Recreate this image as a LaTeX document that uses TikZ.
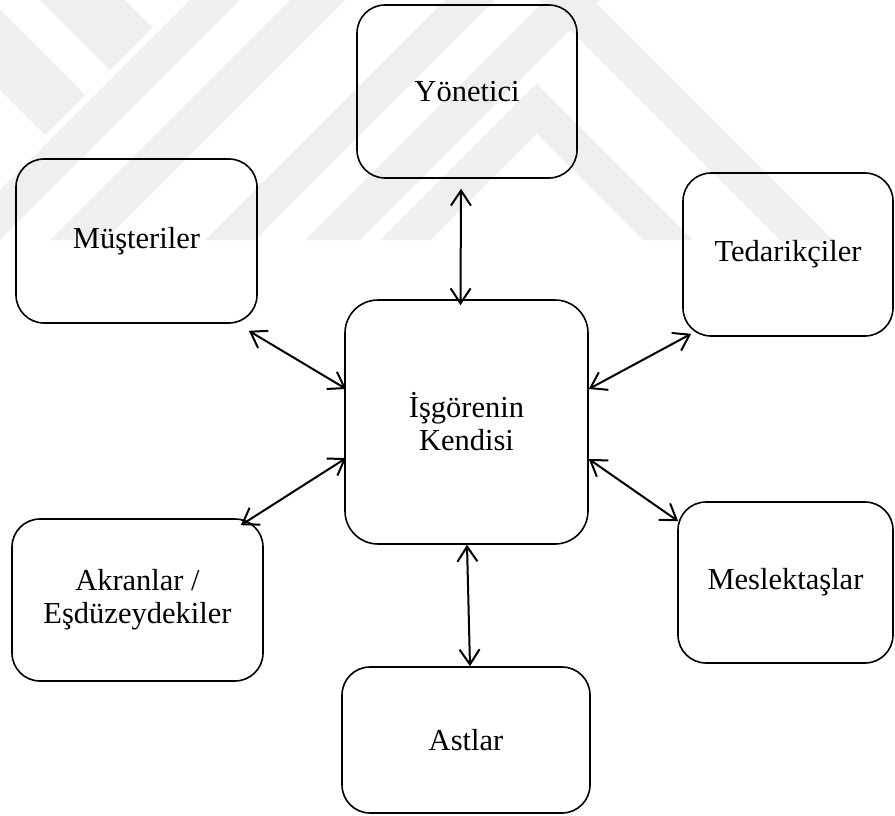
\documentclass[tikz,border=0pt]{standalone}
\usepackage{fontspec}
\setmainfont{Liberation Serif}
\usetikzlibrary{arrows.meta}
\definecolor{wmgray}{HTML}{EFEFEF}
\tikzset{
  box/.style={draw, line width=1.6pt, rounded corners=28pt, inner sep=0pt,
    align=center, font=\fontsize{30.5}{33}\selectfont},
  biarrow/.style={line width=2pt,
    {Straight Barb[length=15pt,width=20pt]}-{Straight Barb[length=15pt,width=20pt]}},
  band/.style={fill=wmgray, draw=none}
}
\begin{document}
\begin{tikzpicture}[x=1pt, y=-1pt]
\useasboundingbox (0,0) rectangle (895,816);

% faint striped emblem in the background
\begin{scope}
  \clip (0,0) rectangle (895,240);
  % left group: short "\" arms ending at the first "/" stroke
  \path[band] (40,0) -- (125,0) -- (152.5,27.5) -- (110,70) -- cycle;
  \path[band] (-90,0) -- (-10,0) -- (85,95) -- (45,135) -- cycle;
  % long "/" strokes
  \path[band] (190,0) -- (240,0) -- (0,240) -- (-50,240) -- cycle;
  \path[band] (290,0) -- (345,0) -- (105,240) -- (50,240) -- cycle;
  \path[band] (445,0) -- (495,0) -- (255,240) -- (205,240) -- cycle;
  % outer chevron
  \path[band] (545,0) -- (600,0) -- (360,240) -- (305,240) -- cycle;
  \path[band] (540,0) -- (593,0) -- (833,240) -- (780,240) -- cycle;
  % inner chevron
  \path[band] (536.5,83.5) -- (693,240) -- (643,240) -- (536.5,133.5)
    -- (430,240) -- (380,240) -- cycle;
\end{scope}

% boxes
\node[box, minimum width=220pt, minimum height=173pt] (yon) at (467,91.5) {Yönetici};
\node[box, minimum width=241pt, minimum height=164pt] (mus) at (136.5,241) {Müşteriler};
\node[box, minimum width=210pt, minimum height=163pt] (ted) at (788,254.5) {Tedarikçiler};
\node[box, minimum width=243pt, minimum height=244pt, rounded corners=33pt] (self) at (466.5,422) {İşgörenin\\Kendisi};
\node[box, minimum width=251pt, minimum height=162pt] (ak) at (137.5,600) {Akranlar /\\Eşdüzeydekiler};
\node[box, minimum width=215pt, minimum height=161pt] (mes) at (785.5,582.5) {Meslektaşlar};
\node[box, minimum width=248pt, minimum height=146pt] (ast) at (466,740) {Astlar};

% two-way connectors
\draw[biarrow] ([shift={(-6,10)}]yon.south) -- ([shift={(-6,6)}]self.north);
\draw[biarrow] ([shift={(-9,7)}]mus.south east) -- ([shift={(2,-33)}]self.west);
\draw[biarrow] ([shift={(9,-3)}]ted.south west) -- ([shift={(0,-33)}]self.east);
\draw[biarrow] ([shift={(-23,7)}]ak.north east) -- ([shift={(2,36)}]self.west);
\draw[biarrow] ([shift={(1,20)}]mes.north west) -- ([shift={(0,37)}]self.east);
\draw[biarrow] ([shift={(0.5,0)}]self.south) -- ([shift={(4,0)}]ast.north);
\end{tikzpicture}
\end{document}
